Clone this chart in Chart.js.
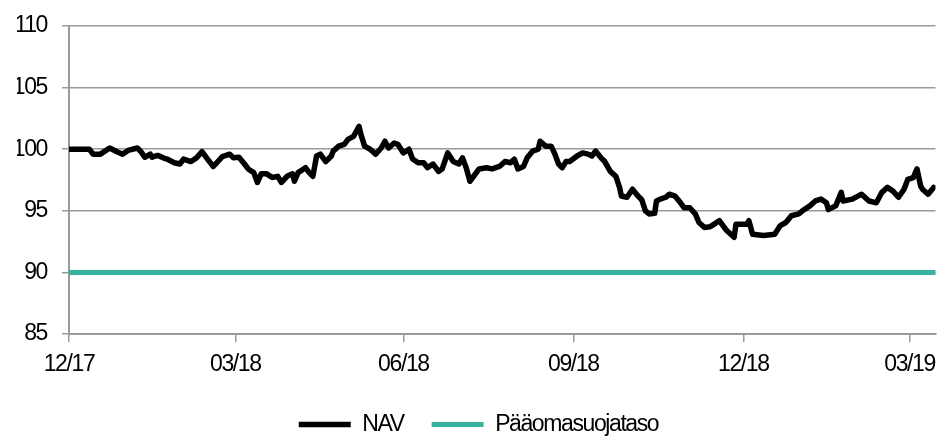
<!DOCTYPE html>
<html>
<head>
<meta charset="utf-8">
<script src="https://cdn.jsdelivr.net/npm/chart.js@4/dist/chart.umd.min.js"></script>
<style>
  html, body { margin: 0; padding: 0; background: #ffffff; }
  #wrap { width: 944px; height: 436px; }
</style>
</head>
<body>
<div id="wrap"><canvas id="c" width="944" height="436"></canvas></div>
<script>
// Days since 31.12.2017
const navDays = [0, 11, 13, 17, 22, 26, 29, 32, 37, 39, 41, 44, 45, 48, 51, 53, 57, 60, 62, 66, 69, 72, 75, 78, 80, 83, 87, 89, 92, 95, 97, 100, 102, 104, 107, 110, 113, 115, 118, 121, 122, 124, 128, 130, 132, 134, 136, 139, 142, 143, 146, 149, 151, 154, 157, 158, 160, 163, 166, 169, 171, 173, 176, 178, 181, 184, 186, 189, 192, 194, 197, 200, 202, 205, 208, 211, 213, 215, 217, 220, 222, 226, 229, 233, 236, 239, 241, 243, 246, 248, 251, 254, 255, 258, 261, 263, 265, 267, 269, 271, 275, 278, 281, 283, 285, 288, 290, 293, 296, 298, 299, 302, 305, 308, 310, 312, 314, 317, 318, 320, 323, 325, 328, 331, 333, 336, 339, 341, 344, 347, 349, 352, 356, 360, 361, 367, 368, 370, 376, 382, 385, 388, 391, 395, 397, 401, 404, 407, 410, 411, 415, 418, 419, 424, 429, 433, 437, 440, 443, 446, 449, 452, 454, 457, 459, 461, 462, 465, 468];
const navValues = [100, 100, 99.6, 99.6, 100.1, 99.8, 99.6, 99.9, 100.1, 99.8, 99.35, 99.6, 99.35, 99.5, 99.3, 99.2, 98.9, 98.8, 99.2, 99.0, 99.3, 99.8, 99.2, 98.6, 98.9, 99.4, 99.6, 99.3, 99.35, 98.8, 98.4, 98.1, 97.3, 98.0, 98.0, 97.7, 97.8, 97.3, 97.8, 98.0, 97.4, 98.1, 98.5, 98.1, 97.8, 99.45, 99.6, 99.0, 99.45, 99.85, 100.25, 100.4, 100.8, 101.05, 101.85, 101.2, 100.25, 100.0, 99.6, 100.1, 100.65, 100.1, 100.5, 100.4, 99.7, 100.0, 99.2, 98.9, 98.9, 98.5, 98.8, 98.2, 98.4, 99.7, 99.0, 98.8, 99.3, 98.5, 97.4, 98.0, 98.4, 98.5, 98.4, 98.6, 99.0, 98.9, 99.2, 98.4, 98.6, 99.3, 99.85, 100.0, 100.65, 100.25, 100.25, 99.6, 98.8, 98.5, 99.0, 99.0, 99.45, 99.7, 99.6, 99.45, 99.85, 99.3, 99.0, 98.2, 97.8, 96.9, 96.2, 96.1, 96.75, 96.2, 95.9, 95.0, 94.75, 94.8, 95.8, 95.95, 96.1, 96.35, 96.2, 95.65, 95.25, 95.25, 94.75, 94.05, 93.65, 93.7, 93.9, 94.2, 93.4, 92.85, 93.9, 93.9, 94.2, 93.1, 93.0, 93.1, 93.8, 94.05, 94.6, 94.75, 95.0, 95.4, 95.8, 95.95, 95.65, 95.1, 95.4, 96.5, 95.8, 95.95, 96.35, 95.8, 95.65, 96.5, 96.9, 96.6, 96.1, 96.75, 97.55, 97.7, 98.4, 97.0, 96.75, 96.35, 96.9];
const floorDays = [0, 469];
const floorValues = [90, 90];
const tickDays = [0, 90, 181, 273, 365, 455];
const tickLabels = ['12/17', '03/18', '06/18', '09/18', '12/18', '03/19'];
const seriesNames = ['NAV', 'Pääomasuojataso'];

const FONT = "'Liberation Sans', Arial, sans-serif";
const FSIZE = 23;
const GRID = '#9a9a9a';

const narrowText = {
  id: 'narrowText',
  beforeLayout(chart) { chart.ctx.letterSpacing = '-1.4px'; },
  beforeDraw(chart) { chart.ctx.letterSpacing = '-1.4px'; }
};

new Chart(document.getElementById('c'), {
  type: 'line',
  plugins: [narrowText],
  data: {
    datasets: [
      {
        label: seriesNames[0],
        data: navDays.map((d, i) => ({ x: d, y: navValues[i] })),
        borderColor: '#000000',
        backgroundColor: '#000000',
        borderWidth: 5.5,
        borderCapStyle: 'round',
        borderJoinStyle: 'round',
        pointRadius: 0,
        tension: 0
      },
      {
        label: seriesNames[1],
        data: floorDays.map((d, i) => ({ x: d, y: floorValues[i] })),
        borderColor: '#37b3a0',
        backgroundColor: '#37b3a0',
        borderWidth: 5,
        borderCapStyle: 'round',
        pointRadius: 0,
        tension: 0
      }
    ]
  },
  options: {
    responsive: false,
    animation: false,
    layout: { padding: { left: 17, right: 4, top: 6, bottom: 0 } },
    plugins: {
      tooltip: { enabled: false },
      legend: {
        position: 'bottom',
        maxHeight: 51,
        labels: {
          usePointStyle: true,
          pointStyle: 'line',
          pointStyleWidth: 52,
          padding: 28,
          color: '#000000',
          font: { family: FONT, size: FSIZE }
        }
      }
    },
    scales: {
      x: {
        type: 'linear',
        min: 0,
        max: 469,
        afterBuildTicks: (scale) => { scale.ticks = tickDays.map(v => ({ value: v })); },
        afterFit: (scale) => { scale.height = 51; },
        ticks: {
          autoSkip: false,
          maxRotation: 0,
          padding: 9,
          color: '#000000',
          font: { family: FONT, size: FSIZE },
          callback: (value, index) => tickLabels[index]
        },
        grid: {
          display: true,
          drawOnChartArea: false,
          drawTicks: true,
          tickLength: 8,
          color: GRID,
          lineWidth: 1.5
        },
        border: { display: true, color: GRID, width: 2 }
      },
      y: {
        min: 85,
        max: 110,
        afterFit: (scale) => { scale.width = 52; },
        ticks: {
          stepSize: 5,
          padding: 15,
          color: '#000000',
          font: { family: FONT, size: FSIZE, lineHeight: 0.96 }
        },
        grid: {
          color: GRID,
          lineWidth: 1.5,
          tickLength: 7,
          drawTicks: true
        },
        border: { display: true, color: GRID, width: 2 }
      }
    }
  }
});
</script>
</body>
</html>
